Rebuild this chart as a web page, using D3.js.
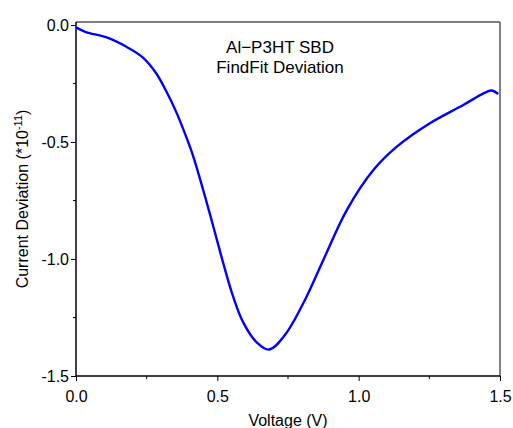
<!DOCTYPE html>
<html>
<head>
<meta charset="utf-8">
<script src="https://cdn.jsdelivr.net/npm/d3@7/dist/d3.min.js"></script>
<style>
body { margin: 0; background: #fff; }
text { font-family: "Liberation Sans", Arial, sans-serif; fill: #000; }
</style>
</head>
<body>
<div id="chart"></div>
<script>
// values
var voltage = [0, 0.035, 0.106, 0.177, 0.236, 0.283, 0.318, 0.354, 0.389, 0.415, 0.450, 0.486, 0.521, 0.556, 0.592, 0.639, 0.683, 0.739, 0.810, 0.875, 0.958, 1.052, 1.135, 1.252, 1.370, 1.440, 1.470, 1.494];
var deviation = [-0.010, -0.030, -0.052, -0.092, -0.138, -0.205, -0.280, -0.370, -0.475, -0.562, -0.705, -0.862, -1.018, -1.161, -1.272, -1.356, -1.387, -1.325, -1.175, -1.004, -0.791, -0.620, -0.520, -0.420, -0.342, -0.293, -0.280, -0.295];
var xTicks = [0, 0.5, 1.0, 1.5];
var yTicks = [0, -0.5, -1.0, -1.5];
var titleLines = ["Al\u2212P3HT SBD", "FindFit Deviation"];

var data = voltage.map(function(v, i) { return {v: v, d: deviation[i]}; });

var W = 513, H = 428;
var margin = {top: 22, right: 13, bottom: 52, left: 76};
var width = W - margin.left - margin.right;
var height = H - margin.top - margin.bottom;

var svg = d3.select("#chart").append("svg")
	.attr("width", W)
	.attr("height", H);

var g = svg.append("g")
	.attr("transform", "translate(" + margin.left + "," + margin.top + ")");

var x = d3.scaleLinear().domain([0, 1.5]).range([0, width]);
var y = d3.scaleLinear().domain([-1.5, 0.013]).range([height, 0]);

//frame: top and right in grey
g.append("line").attr("x1", 0).attr("x2", width).attr("y1", 0).attr("y2", 0)
	.attr("stroke", "#555").attr("stroke-width", 1.5);
g.append("line").attr("x1", width).attr("x2", width).attr("y1", 0).attr("y2", height)
	.attr("stroke", "#555").attr("stroke-width", 1.5);

//minor ticks
var xMinor = d3.range(0.25, 1.5, 0.5);
var yMinor = d3.range(-0.25, -1.5, -0.5);

g.selectAll(".xminor").data(xMinor).enter().append("line")
	.attr("x1", function(d) { return x(d); }).attr("x2", function(d) { return x(d); })
	.attr("y1", height).attr("y2", height + 3)
	.attr("stroke", "#000");
g.selectAll(".yminor").data(yMinor).enter().append("line")
	.attr("y1", function(d) { return y(d); }).attr("y2", function(d) { return y(d); })
	.attr("x1", 0).attr("x2", -3)
	.attr("stroke", "#000");

//axes
var xAxis = g.append("g")
	.attr("transform", "translate(0," + height + ")")
	.call(d3.axisBottom(x).tickValues(xTicks).tickFormat(d3.format(".1f")).tickSize(5).tickPadding(10));
var yAxis = g.append("g")
	.call(d3.axisLeft(y).tickValues(yTicks).tickFormat(function(d) { return d3.format(".1f")(d).replace("\u2212", "-"); }).tickSize(5).tickPadding(2));

[xAxis, yAxis].forEach(function(a) {
	a.select(".domain").attr("stroke", "#000").attr("stroke-width", 1.5);
	a.selectAll(".tick line").attr("stroke", "#000");
	a.selectAll("text").style("font-size", "16px").attr("fill", "#000");
});
xAxis.select(".domain").attr("d", "M0,0H" + width);
yAxis.select(".domain").attr("d", "M0," + height + "V0");

//curve
var line = d3.line()
	.x(function(d) { return x(d.v); })
	.y(function(d) { return y(d.d); })
	.curve(d3.curveCatmullRom.alpha(0.5));

g.append("path")
	.datum(data)
	.attr("fill", "none")
	.attr("stroke", "#0000ff")
	.attr("stroke-width", 2.4)
	.attr("d", line);

//title lines
g.selectAll(".title").data(titleLines).enter().append("text")
	.attr("x", 204)
	.attr("y", function(d, i) { return 31 + i * 20; })
	.attr("text-anchor", "middle")
	.style("font-size", "17px")
	.text(function(d) { return d; });

//axis titles
g.append("text")
	.attr("x", width / 2)
	.attr("y", height + 50)
	.attr("text-anchor", "middle")
	.style("font-size", "16px")
	.text("Voltage (V)");

var yl = svg.append("text")
	.attr("transform", "translate(28," + (margin.top + height / 2) + ") rotate(-90)")
	.attr("text-anchor", "middle")
	.style("font-size", "16px");
yl.append("tspan").text("Current Deviation (*10");
yl.append("tspan").attr("dy", -6).style("font-size", "11px").text("-11");
yl.append("tspan").attr("dy", 6).text(")");
</script>
</body>
</html>
